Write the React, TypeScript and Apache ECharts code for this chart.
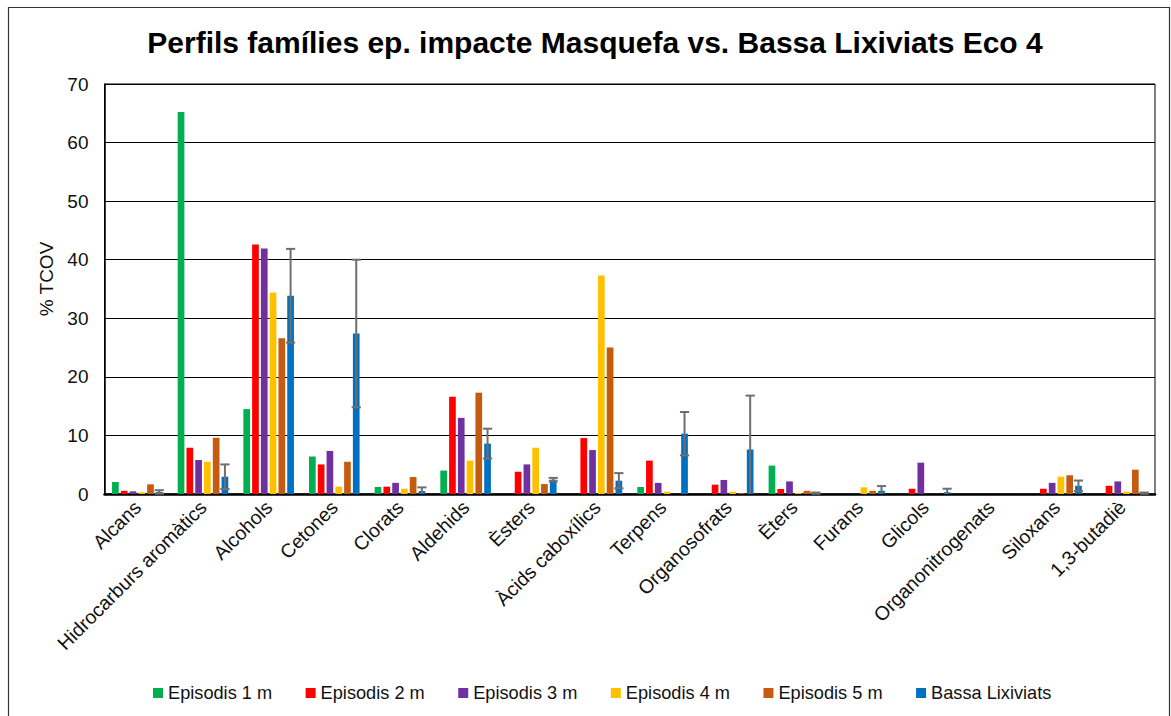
import React, { useEffect, useRef } from "react";
import * as echarts from "echarts";

const categories = [
  "Alcans",
  "Hidrocarburs aromàtics",
  "Alcohols",
  "Cetones",
  "Clorats",
  "Aldehids",
  "Èsters",
  "Àcids caboxílics",
  "Terpens",
  "Organosofrats",
  "Èters",
  "Furans",
  "Glicols",
  "Organonitrogenats",
  "Siloxans",
  "1,3-butadiè",
];

const seriesNames = [
  "Episodis 1 m",
  "Episodis 2 m",
  "Episodis 3 m",
  "Episodis 4 m",
  "Episodis 5 m",
  "Bassa Lixiviats",
];

const episodis1 = [2.05, 65.2, 14.5, 6.4, 1.2, 4.0, 0, 0, 1.2, 0, 4.85, 0, 0, 0, 0, 0];
const episodis2 = [0.55, 7.9, 42.6, 5.05, 1.25, 16.6, 3.8, 9.55, 5.7, 1.6, 0.85, 0, 0.9, 0, 0.9, 1.4];
const episodis3 = [0.45, 5.8, 41.9, 7.35, 1.9, 13.0, 5.05, 7.5, 1.9, 2.4, 2.15, 0, 5.35, 0, 1.9, 2.15];
const episodis4 = [0.3, 5.5, 34.4, 1.25, 0.9, 5.7, 7.9, 37.3, 0.4, 0.4, 0.2, 1.15, 0, 0, 2.95, 0.4];
const episodis5 = [1.65, 9.6, 26.6, 5.5, 2.9, 17.3, 1.7, 25.0, 0, 0.15, 0.55, 0.55, 0, 0, 3.2, 4.15];
const bassaLixiviats = [0.35, 2.95, 33.85, 27.4, 0.5, 8.6, 2.45, 2.27, 10.3, 7.6, 0.15, 0.55, 0.3, 0, 1.4, 0.15];
const bassaError = [0.3, 2.1, 8.0, 12.6, 0.63, 2.55, 0.3, 1.3, 3.7, 9.2, 0.1, 0.8, 0.6, 0, 0.9, 0.1];

const yTicks = [0, 10, 20, 30, 40, 50, 60, 70];

const colors = ["#00b050", "#ff0000", "#7030a0", "#ffc000", "#c55a11", "#0070c0"];
const FONT = "'Liberation Sans', Arial, Helvetica, sans-serif";

export default function App() {
  const ref = useRef<HTMLDivElement>(null);

  useEffect(() => {
    if (!ref.current) return;
    const chart = echarts.init(ref.current, undefined, { renderer: "svg" });

    const barWidth = 6.7;
    const gapRatio = 0.31;
    const gapPx = barWidth * gapRatio;
    const nBars = 6;
    const totalW = nBars * barWidth + (nBars - 1) * gapPx;
    const blueOffset = totalW / 2 - barWidth / 2;

    const allSeries = [episodis1, episodis2, episodis3, episodis4, episodis5, bassaLixiviats];

    const barSeries = allSeries.map((d, i) => ({
      name: seriesNames[i],
      type: "bar",
      data: d,
      barWidth,
      barGap: `${gapRatio * 100}%`,
      itemStyle: { color: colors[i] },
      z: 2,
    }));

    const errData = bassaLixiviats.map((v, i) => [i, v, bassaError[i]]);

    const option: any = {
      animation: false,
      backgroundColor: "#ffffff",
      textStyle: { fontFamily: FONT },
      grid: {
        left: 104.5,
        right: 16,
        top: 84,
        bottom: 222,
        show: true,
        borderColor: "#000",
        borderWidth: 1,
      },
      legend: {
        data: seriesNames,
        left: 148,
        top: 679,
        itemWidth: 10,
        itemHeight: 10,
        itemGap: 33.5,
        icon: "rect",
        textStyle: { fontSize: 18.2, color: "#111", fontFamily: FONT },
      },
      xAxis: {
        type: "category",
        data: categories,
        axisLine: { show: true, lineStyle: { color: "#000", width: 2.5 } },
        axisTick: { show: false },
        axisLabel: {
          interval: 0,
          rotate: 45,
          fontSize: 19.5,
          color: "#111",
          margin: 10,
          fontFamily: FONT,
        },
        splitLine: { show: false },
      },
      yAxis: {
        type: "value",
        min: yTicks[0],
        max: yTicks[yTicks.length - 1],
        interval: 10,
        axisLine: { show: true, lineStyle: { color: "#000", width: 1.5 } },
        axisTick: { show: false },
        axisLabel: { fontSize: 19, color: "#111", margin: 16, fontFamily: FONT },
        splitLine: { show: true, lineStyle: { color: "#000", width: 1 } },
      },
      graphic: [
        {
          type: "rect",
          shape: { x: 8.5, y: 7.5, width: 1161, height: 720 },
          style: { fill: "none", stroke: "#333", lineWidth: 1.2 },
          silent: true,
        },
        {
          type: "text",
          x: 595,
          y: 42,
          style: {
            text: "Perfils famílies ep. impacte Masquefa vs. Bassa Lixiviats Eco 4",
            font: `bold 30px ${FONT}`,
            fill: "#000",
            textAlign: "center",
            textVerticalAlign: "middle",
          },
        },
        {
          type: "text",
          x: 46,
          y: 279,
          rotation: Math.PI / 2,
          style: {
            text: "% TCOV",
            font: `19px ${FONT}`,
            fill: "#111",
            textAlign: "center",
            textVerticalAlign: "middle",
          },
        },
      ],
      series: [
        ...barSeries,
        {
          name: "error",
          type: "custom",
          z: 5,
          data: errData,
          encode: { x: 0, y: 1 },
          renderItem: (params: any, api: any) => {
            const idx = api.value(0);
            const v = api.value(1);
            const e = api.value(2);
            if (!e) return null;
            const base = api.coord([idx, v]);
            const x = base[0] + blueOffset;
            const hiY = api.coord([idx, v + e])[1];
            const lowVal = v - e;
            const loY = api.coord([idx, Math.max(0, lowVal)])[1];
            const cap = 4.6;
            const st = { stroke: "#6f6f6f", lineWidth: 2 };
            const children: any[] = [
              { type: "line", shape: { x1: x, y1: hiY, x2: x, y2: loY }, style: st },
              { type: "line", shape: { x1: x - cap, y1: hiY, x2: x + cap, y2: hiY }, style: st },
            ];
            if (lowVal >= 0) {
              children.push({ type: "line", shape: { x1: x - cap, y1: loY, x2: x + cap, y2: loY }, style: st });
            }
            return { type: "group", children };
          },
        },
      ],
    };

    chart.setOption(option);
    return () => chart.dispose();
  }, []);

  return (
    <div
      ref={ref}
      style={{ position: "fixed", left: 0, top: 0, width: 1171, height: 716, background: "#fff" }}
    />
  );
}
